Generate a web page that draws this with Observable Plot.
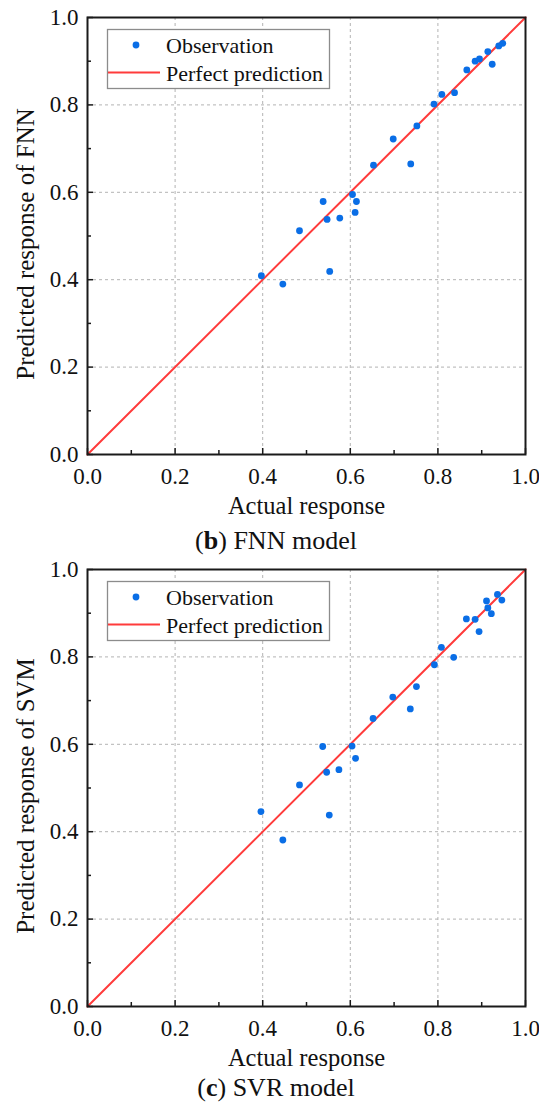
<!DOCTYPE html>
<html>
<head>
<meta charset="utf-8">
<script src="https://cdn.jsdelivr.net/npm/d3@7"></script>
<script src="https://cdn.jsdelivr.net/npm/@observablehq/plot@0.6"></script>
<style>
  body { margin: 0; background: #fff; }
  #root { position: relative; width: 539px; height: 1106px; overflow: hidden; font-family: "Liberation Serif", "Times New Roman", serif; color: #111; }
  .panel { position: absolute; left: 0; }
  .panel svg text { font-family: "Liberation Serif", "Times New Roman", serif !important; font-variant: normal !important; font-variant-numeric: normal !important; }
  .caption { position: absolute; left: 0; width: 552px; text-align: center; font-size: 26px; line-height: 26px; }
  .legend { position: absolute; left: 0; top: 0; }
</style>
</head>
<body>
<div id="root"></div>
<script>
// ---------- data ----------
const fnnActual = [0.397,0.446,0.553,0.484,0.538,0.547,0.576,0.605,0.614,0.611,0.653,0.698,0.738,0.752,0.791,0.809,0.838,0.866,0.885,0.895,0.914,0.924,0.939,0.948];
const fnnPredicted = [0.409,0.390,0.419,0.512,0.579,0.538,0.541,0.595,0.579,0.554,0.662,0.722,0.665,0.752,0.802,0.824,0.828,0.880,0.900,0.905,0.922,0.893,0.935,0.941];

const svrActual = [0.396,0.446,0.552,0.484,0.537,0.546,0.574,0.604,0.612,0.652,0.697,0.737,0.751,0.792,0.808,0.836,0.865,0.885,0.894,0.911,0.914,0.922,0.936,0.946];
const svrPredicted = [0.446,0.381,0.438,0.507,0.595,0.536,0.542,0.596,0.568,0.659,0.708,0.681,0.732,0.782,0.822,0.799,0.887,0.886,0.858,0.928,0.912,0.899,0.943,0.930];

const perfectLine = [0, 1];
const majorTicks = [0, 0.2, 0.4, 0.6, 0.8, 1.0];
const minorTicks = [0.1, 0.3, 0.5, 0.7, 0.9];
const gridTicks = [0.2, 0.4, 0.6, 0.8];

const xTitle = "Actual response";
const yTitles = ["Predicted response of FNN", "Predicted response of SVM"];
const legendLabels = ["Observation", "Perfect prediction"];
const captionLetters = ["b", "c"];
const captionTexts = [" FNN model", " SVR model"];

// ---------- styles ----------
const BLUE = "#0a6ee6";
const RED = "#ff3b3b";
const FONT = "Liberation Serif";
const W = 539, H = 520, MT = 17, MB = 66, ML = 87, MR = 14;
const PW = W - ML - MR, PH = H - MT - MB;

function panel(actual, predicted, yTitle) {
  const pts = actual.map((a, i) => ({a, p: predicted[i]}));
  const fmt = d => d.toFixed(1);
  const tickStyle = {stroke: "#1a1a1a", strokeWidth: 1.5};
  return Plot.plot({
    width: W, height: H,
    marginTop: MT, marginBottom: MB, marginLeft: ML, marginRight: MR,
    style: {fontFamily: FONT, fontSize: "23px", color: "#111", background: "transparent", overflow: "visible"},
    x: {domain: [0, 1], label: null},
    y: {domain: [0, 1], label: null},
    marks: [
      Plot.gridX(gridTicks, {stroke: "#b3b3b3", strokeOpacity: 1, strokeWidth: 1, strokeDasharray: "3,3"}),
      Plot.gridY(gridTicks, {stroke: "#b3b3b3", strokeOpacity: 1, strokeWidth: 1, strokeDasharray: "3,3"}),
      Plot.line(perfectLine, {x: d => d, y: d => d, stroke: RED, strokeWidth: 2}),
      Plot.dot(pts, {x: "a", y: "p", r: 3.4, fill: BLUE, stroke: null}),
      // inward ticks
      Plot.ruleX(majorTicks, {x: d => d, insetTop: PH - 6, ...tickStyle}),
      Plot.ruleX(minorTicks, {x: d => d, insetTop: PH - 4, ...tickStyle}),
      Plot.ruleY(majorTicks, {y: d => d, insetRight: PW - 6, ...tickStyle}),
      Plot.ruleY(minorTicks, {y: d => d, insetRight: PW - 4, ...tickStyle}),
      Plot.frame({stroke: "#1a1a1a", strokeWidth: 2}),
      Plot.axisX(majorTicks, {tickSize: 0, tickPadding: 13, tickFormat: fmt, fontSize: 23, fontFamily: FONT, fontVariant: "normal", fill: "#111"}),
      Plot.axisY(majorTicks, {tickSize: 0, tickPadding: 9, tickFormat: fmt, fontSize: 23, fontFamily: FONT, fontVariant: "normal", fill: "#111"}),
      Plot.text([xTitle], {text: d => d, frameAnchor: "bottom", dy: 42, lineAnchor: "top", fontSize: 24.5, fontFamily: FONT, fill: "#111"}),
      Plot.text([yTitle], {text: d => d, frameAnchor: "left", textAnchor: "middle", dx: -62, dy: 8, rotate: -90, lineAnchor: "middle", fontSize: 25, fontFamily: FONT, fill: "#111"})
    ]
  });
}

function legendSvg() {
  const ns = "http://www.w3.org/2000/svg";
  const svg = document.createElementNS(ns, "svg");
  svg.setAttribute("width", 539); svg.setAttribute("height", 100);
  svg.setAttribute("class", "legend");
  svg.innerHTML = `
    <rect x="107.5" y="29.5" width="222" height="59" fill="white" stroke="#8c8c8c" stroke-width="1.3"/>
    <circle cx="136" cy="45" r="3.4" fill="${BLUE}"/>
    <line x1="108" x2="160" y1="72.5" y2="72.5" stroke="${RED}" stroke-width="2"/>
    <text x="166" y="52.5" font-family="${FONT}" font-size="22" fill="#111">${legendLabels[0]}</text>
    <text x="166" y="80.5" font-family="${FONT}" font-size="22" fill="#111">${legendLabels[1]}</text>`;
  return svg;
}

const root = document.getElementById("root");
const panelTops = [0, 552];
const series = [[fnnActual, fnnPredicted], [svrActual, svrPredicted]];
const captionTops = [528, 1075];

series.forEach(([a, p], i) => {
  const wrap = document.createElement("div");
  wrap.className = "panel";
  wrap.style.top = panelTops[i] + "px";
  wrap.style.width = W + "px";
  wrap.style.height = H + "px";
  wrap.appendChild(panel(a, p, yTitles[i]));
  wrap.appendChild(legendSvg());
  root.appendChild(wrap);

  const cap = document.createElement("div");
  cap.className = "caption";
  cap.style.top = captionTops[i] + "px";
  cap.innerHTML = `(<b>${captionLetters[i]}</b>)${captionTexts[i]}`;
  root.appendChild(cap);
});
</script>
</body>
</html>
